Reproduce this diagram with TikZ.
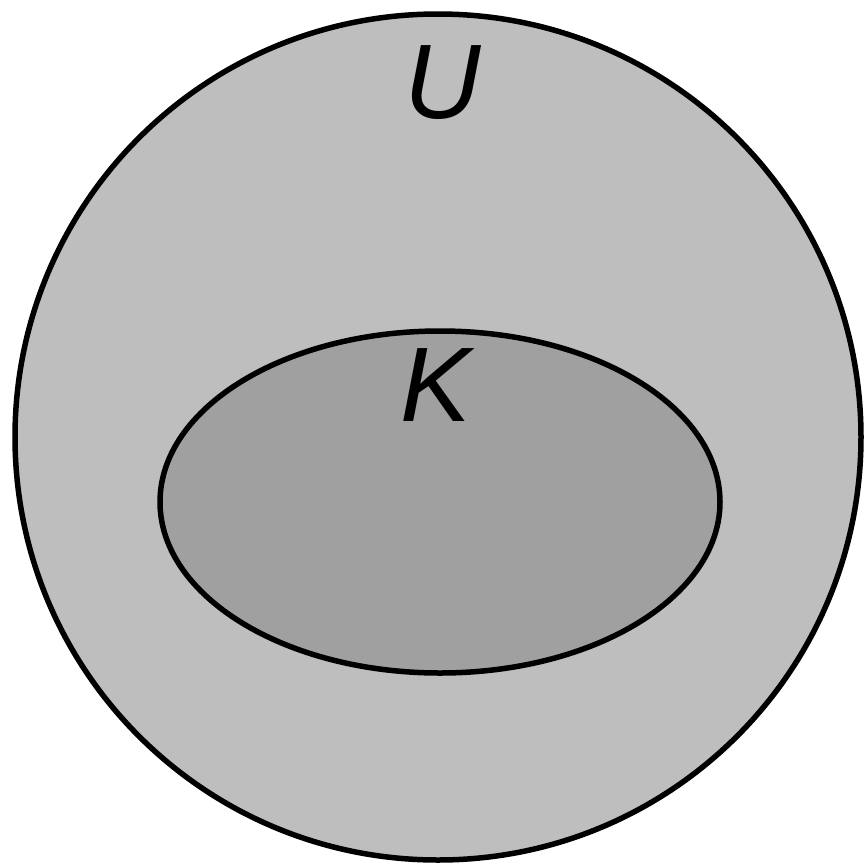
\documentclass[tikz,border=0pt]{standalone}
\usepackage{fontspec}
\setmainfont{Liberation Sans}
\definecolor{outergray}{gray}{0.745}
\definecolor{innergray}{gray}{0.627}
\tikzset{
  setshape/.style={draw=black, line width=5.5pt},
  setlabel/.style={font=\fontsize{106}{110}\selectfont\itshape, inner sep=0pt, anchor=base}
}
\begin{document}
\begin{tikzpicture}[x=1pt,y=-1pt]
\useasboundingbox (0,0) rectangle (864,865);
\draw[setshape, fill=outergray] (438,437) circle[radius=423];
\draw[setshape, fill=innergray] (440,502) ellipse[x radius=280, y radius=171];
\node[setlabel] (U) at (443,118) {U};
\node[setlabel] (K) at (436,421) {K};
\end{tikzpicture}
\end{document}
